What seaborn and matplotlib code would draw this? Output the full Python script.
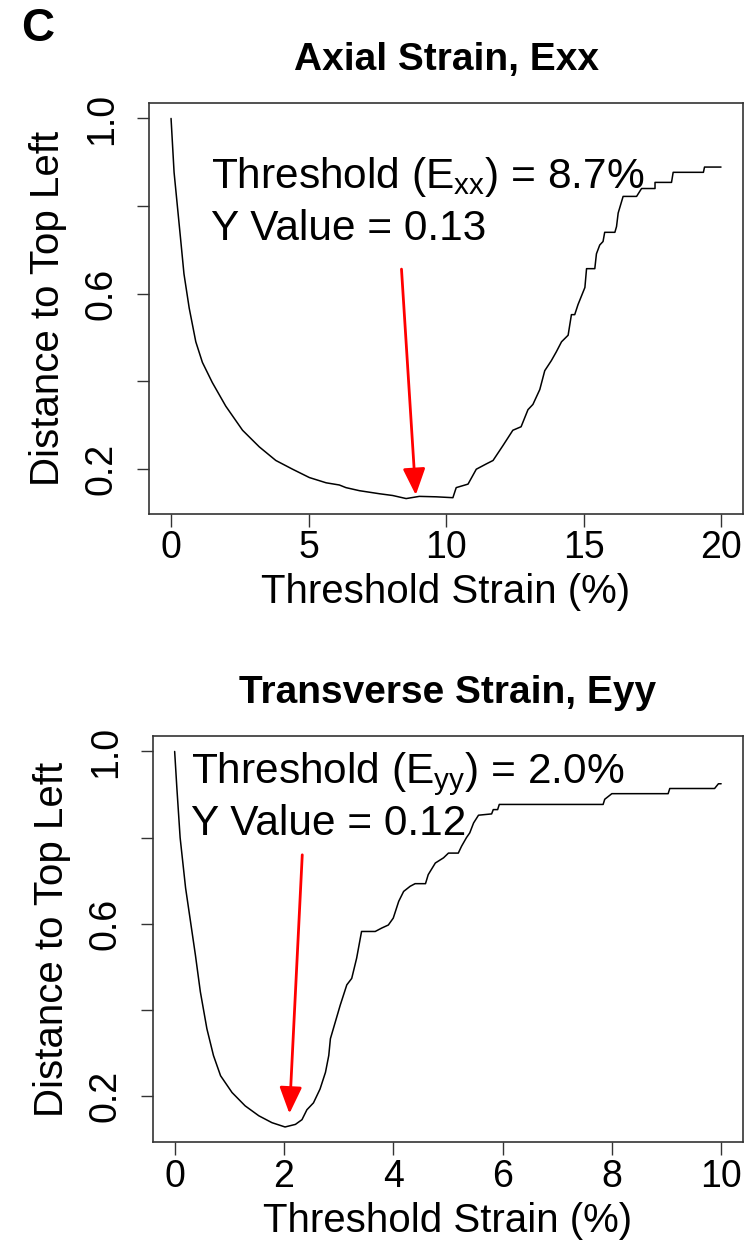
import matplotlib
matplotlib.use("Agg")
import matplotlib.pyplot as plt
import seaborn as sns
import pandas as pd

# ---- data ----
axial_x = [0.0, 0.11, 0.23, 0.35, 0.47, 0.66, 0.90, 1.14, 1.50, 1.99, 2.60, 3.21, 3.81,
           4.42, 5.03, 5.64, 6.12, 6.36, 6.85, 7.58, 8.06, 8.55, 9.03, 9.64, 10.25, 10.37,
           10.80, 11.10, 11.46, 11.71, 12.07, 12.43, 12.73, 12.98, 13.16, 13.41, 13.59,
           13.83, 14.01, 14.20, 14.44, 14.56, 14.68, 14.80, 15.05, 15.11, 15.41, 15.47,
           15.59, 15.71, 15.77, 16.14, 16.20, 16.26, 16.44, 16.93, 17.11, 17.60, 17.60,
           18.20, 18.26, 19.36, 19.40, 20.0]
axial_y = [1.0, 0.877, 0.800, 0.723, 0.645, 0.567, 0.490, 0.443, 0.397, 0.343, 0.288,
           0.250, 0.219, 0.199, 0.180, 0.168, 0.163, 0.157, 0.150, 0.143, 0.139, 0.132,
           0.137, 0.136, 0.134, 0.157, 0.165, 0.199, 0.211, 0.219, 0.253, 0.288, 0.296,
           0.335, 0.347, 0.381, 0.424, 0.447, 0.467, 0.490, 0.505, 0.552, 0.552, 0.575,
           0.614, 0.657, 0.657, 0.691, 0.711, 0.719, 0.740, 0.740, 0.753, 0.784, 0.822,
           0.822, 0.840, 0.840, 0.854, 0.854, 0.877, 0.877, 0.889, 0.889]

trans_x = [0.0, 0.04, 0.10, 0.20, 0.29, 0.38, 0.47, 0.59, 0.71, 0.84, 1.05, 1.29, 1.54,
           1.78, 2.02, 2.21, 2.33, 2.42, 2.54, 2.66, 2.76, 2.82, 2.85, 2.94, 3.03, 3.15,
           3.24, 3.33, 3.42, 3.67, 3.79, 3.91, 4.00, 4.10, 4.19, 4.31, 4.40, 4.59, 4.64,
           4.77, 4.92, 5.01, 5.19, 5.25, 5.34, 5.40, 5.47, 5.56, 5.80, 5.83, 5.91, 5.94,
           7.84, 7.87, 8.00, 9.03, 9.06, 9.88, 9.95, 10.0]
trans_y = [1.0, 0.916, 0.800, 0.683, 0.605, 0.527, 0.442, 0.356, 0.294, 0.247, 0.208,
           0.177, 0.154, 0.138, 0.128, 0.134, 0.145, 0.168, 0.184, 0.216, 0.255, 0.294,
           0.333, 0.372, 0.411, 0.458, 0.473, 0.520, 0.582, 0.582, 0.590, 0.597, 0.613,
           0.652, 0.675, 0.687, 0.693, 0.693, 0.714, 0.741, 0.753, 0.764, 0.764, 0.780,
           0.800, 0.811, 0.834, 0.852, 0.855, 0.865, 0.865, 0.877, 0.877, 0.889, 0.902,
           0.902, 0.914, 0.914, 0.925, 0.925]

titles = ["Axial Strain, Exx", "Transverse Strain, Eyy"]
xlabel = "Threshold Strain (%)"
ylabel = "Distance to Top Left"
ann_line1 = [r"Threshold (E$_{\mathrm{xx}}$) = 8.7%", r"Threshold (E$_{\mathrm{yy}}$) = 2.0%"]
ann_line2 = ["Y Value = 0.13", "Y Value = 0.12"]
x_ticks = [[0, 5, 10, 15, 20], [0, 2, 4, 6, 8, 10]]
y_ticks = [0.2, 0.4, 0.6, 0.8, 1.0]
y_ticklabels = ["0.2", "", "0.6", "", "1.0"]
panel_letter = "C"

# ---- style ----
sns.set_style("ticks")
plt.rcParams["font.family"] = ["Liberation Sans", "DejaVu Sans"]
plt.rcParams["mathtext.fontset"] = "custom"
plt.rcParams["mathtext.rm"] = "Liberation Sans"
plt.rcParams["mathtext.it"] = "Liberation Sans:italic"
plt.rcParams["mathtext.bf"] = "Liberation Sans:bold"
plt.rcParams["text.color"] = "black"
plt.rcParams["axes.labelcolor"] = "black"
plt.rcParams["xtick.color"] = "#333333"
plt.rcParams["ytick.color"] = "#333333"
plt.rcParams["xtick.labelcolor"] = "black"
plt.rcParams["ytick.labelcolor"] = "black"

fig = plt.figure(figsize=(7.49, 12.44), dpi=100)
ax1 = fig.add_axes([0.199, 0.587, 0.793, 0.330])
ax2 = fig.add_axes([0.204, 0.082, 0.788, 0.326])

df1 = pd.DataFrame({"x": axial_x, "y": axial_y})
df2 = pd.DataFrame({"x": trans_x, "y": trans_y})

setups = [
    (ax1, df1, (-0.8, 20.8), (1.46, 0.842), (1.46, 0.723), (8.38, 0.656), (8.90, 0.140)),
    (ax2, df2, (-0.4, 10.4), (0.30, 0.927), (0.30, 0.807), (2.335, 0.76), (2.10, 0.159)),
]

for i, (ax, df, xlim, t1, t2, a0, a1) in enumerate(setups):
    sns.lineplot(data=df, x="x", y="y", ax=ax, color="black", linewidth=1.1,
                 estimator=None, sort=False)
    ymin = min(df["y"])
    ymax = max(df["y"])
    pad = 0.04 * (ymax - ymin)
    ax.set_ylim(ymin - pad, ymax + pad)
    ax.set_xlim(*xlim)
    ax.set_xticks(x_ticks[i])
    ax.set_xticklabels([str(v) for v in x_ticks[i]])
    ax.set_yticks(y_ticks)
    ax.set_yticklabels(y_ticklabels, rotation=90, va="center")
    ax.tick_params(axis="both", labelsize=27, length=9, width=1.0)
    ax.tick_params(axis="x", pad=3)
    ax.tick_params(axis="y", pad=12)
    for s in ax.spines.values():
        s.set_visible(True)
        s.set_linewidth(1.2)
        s.set_color("#333333")
    ax.set_xlabel(xlabel, fontsize=29, labelpad=5)
    ax.set_ylabel(ylabel, fontsize=29, labelpad=12)
    ax.set_title(titles[i], fontsize=28, fontweight="bold", pad=24)
    ax.text(t1[0], t1[1], ann_line1[i], fontsize=30.5, ha="left", va="baseline")
    ax.text(t2[0], t2[1], ann_line2[i], fontsize=30.5, ha="left", va="baseline")
    ax.annotate("", xy=a1, xytext=a0,
                arrowprops=dict(arrowstyle="-|>,head_width=0.38,head_length=0.9",
                                color="red", lw=2.0, mutation_scale=18,
                                shrinkA=0, shrinkB=0))

fig.text(0.028, 0.967, panel_letter, fontsize=33, fontweight="bold", ha="left",
         va="baseline")

fig.savefig("out.png", dpi=100, facecolor="white")
